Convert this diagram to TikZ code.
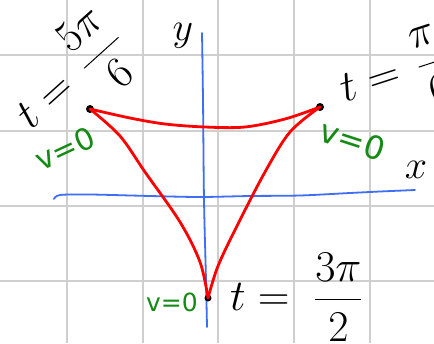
\RequirePackage{fix-cm}
\documentclass[tikz,border=0pt]{standalone}
\usepackage{amsmath}
\usepackage{fontspec}
\newfontfamily\handfont{DejaVu Sans}
\definecolor{gridgray}{HTML}{CFCFCF}
\definecolor{axisblue}{HTML}{3D6EF5}
\definecolor{vgreen}{HTML}{158A15}
\begin{document}
\begin{tikzpicture}[x=1pt,y=-1pt,
  gridline/.style={draw=gridgray, line width=1.6pt},
  axisline/.style={draw=axisblue, line width=1.8pt, line cap=round},
  curveline/.style={draw=red, line width=2.8pt, line cap=round, line join=round},
  cusp/.style={circle, fill=black, inner sep=0pt, minimum size=8pt},
  tlabel/.style={font=\fontsize{44}{48}\selectfont, inner sep=0pt},
  axlabel/.style={font=\fontsize{40}{44}\selectfont, inner sep=0pt},
  vlabel/.style={text=vgreen, font=\handfont\fontsize{30}{34}\selectfont, inner sep=0pt}]
\useasboundingbox (0,0) rectangle (434,343);
\fill[white] (0,0) rectangle (434,343);
% grid
\foreach \gx in {67,143,218,294,370} \draw[gridline] (\gx,0) -- (\gx,343);
\foreach \gy in {55,131,206,281} \draw[gridline] (0,\gy) -- (434,\gy);
% axes
\coordinate (xs) at (54,199);
\coordinate (xe) at (415,190);
\coordinate (ys) at (202,33);
\coordinate (ye) at (207,327);
\draw[axisline] plot[smooth] coordinates {(xs) (60,195) (90,194.5) (150,196) (200,197) (250,196) (300,195.5) (350,193) (380,191.5) (xe)};
\draw[axisline] plot[smooth] coordinates {(ys) (203,100) (204,200) (206,280) (ye)};
\node[axlabel] (xl) at (416,170) {$x$};
\node[axlabel] (yl) at (183,36) {$y$};
% cusps
\node[cusp] (A) at (90,109) {};
\node[cusp] (B) at (320,107) {};
\node[cusp, minimum size=7pt] (C) at (208,298) {};
% curve
\draw[curveline] plot[smooth, tension=0.55] coordinates {(A.center) (130,118) (165,124) (205,127) (245,127) (285,119) (B.center)};
\draw[curveline] plot[smooth, tension=0.55] coordinates {(A.center) (120,136) (145,172) (180,222) (200,262) (C.center)};
\draw[curveline] plot[smooth, tension=0.55] coordinates {(B.center) (290,132) (265,172) (237,226) (218,266) (C.center)};
% labels
\node[tlabel, rotate=42] (la) at (70,77) {$t=\,\dfrac{5\pi}{6}$};
\node[tlabel, rotate=18] (lb) at (394,77) {$t=\,\dfrac{\pi}{6}$};
\node[tlabel, anchor=west] (lc) at (230,297) {$t=\;\dfrac{3\pi}{2}$};
\node[vlabel, rotate=25] (va) at (65,149) {v=0};
\node[vlabel, rotate=-18, font=\handfont\fontsize{32}{36}\selectfont] (vb) at (353,140) {v=0};
\node[vlabel, font=\handfont\fontsize{25}{28}\selectfont] (vc) at (172,302) {v=0};
\end{tikzpicture}
\end{document}
